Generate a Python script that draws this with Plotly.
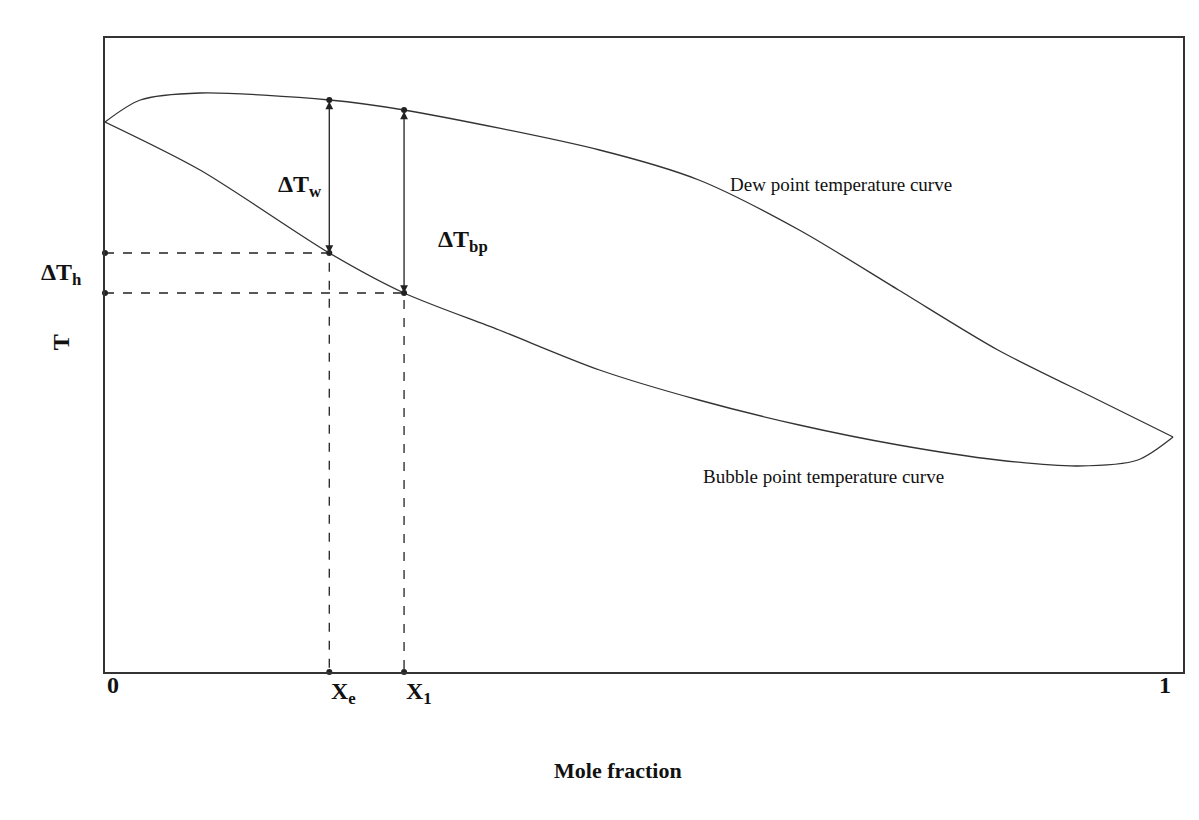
import plotly.graph_objects as go

# dew point curve (upper)
dew_x = [0, 0.033, 0.089, 0.21, 0.28, 0.463, 0.556, 0.65, 0.743, 0.836, 0.93, 1.0]
dew_t = [550, 572, 579, 572, 562, 522, 492, 442, 382, 322, 272, 235]

# bubble point curve (lower)
bub_x = [0, 0.089, 0.21, 0.28, 0.369, 0.463, 0.556, 0.65, 0.743, 0.836, 0.911, 0.967, 1.0]
bub_t = [550, 502, 419, 379, 342, 302, 272, 247, 227, 212, 206, 212, 235]

x_e, x_1 = 0.21, 0.28
t_dew_e, t_bub_e = 572, 419
t_dew_1, t_bub_1 = 562, 379

X_MAX, T_MAX = 1.0093, 634
FONT = "Liberation Serif"
fig = go.Figure()

line = dict(color="#333", width=1.3, shape="spline", smoothing=0.8)
fig.add_trace(go.Scatter(x=dew_x, y=dew_t, mode="lines", line=line))
fig.add_trace(go.Scatter(x=bub_x, y=bub_t, mode="lines", line=line))

dash = dict(color="#222", width=1.3, dash="dash")
for xv, tv in [(x_e, t_bub_e), (x_1, t_bub_1)]:
    fig.add_trace(go.Scatter(x=[0, xv, xv], y=[tv, tv, 0], mode="lines", line=dash))

fig.add_trace(go.Scatter(
    x=[0, 0, x_e, x_1, x_e, x_1, x_e, x_1],
    y=[t_bub_e, t_bub_1, 0, 0, t_bub_e, t_bub_1, t_dew_e, t_dew_1],
    mode="markers", marker=dict(color="#222", size=6), cliponaxis=False))

for xv, t0, t1 in [(x_e, t_dew_e, t_bub_e), (x_1, t_dew_1, t_bub_1)]:
    fig.add_annotation(x=xv, y=t1, ax=xv, ay=t0, xref="x", yref="y", axref="x", ayref="y",
                       text="", showarrow=True, arrowhead=2, arrowsize=1.2, arrowwidth=1.3,
                       arrowcolor="#222", arrowside="end+start")

def txt(x, y, s, size, **kw):
    # paper coordinates so labels outside the axes are not hidden
    fig.add_annotation(x=x / X_MAX, y=y / T_MAX, xref="paper", yref="paper", text=s,
                       showarrow=False, font=dict(family=FONT, size=size, color="#111"), **kw)

txt(0.16, 503, "<b>ΔT<sub>w</sub></b>", 24)
txt(0.31, 448, "<b>ΔT<sub>bp</sub></b>", 24)
txt(-0.062, 398, "<b>ΔT<sub>h</sub></b>", 24)
txt(-0.055, 330, "<b>T</b>", 24, textangle=-90)
txt(0.795, 500, "Dew point temperature curve", 19)
txt(0.787, 183, "Bubble point temperature curve", 19)
txt(0, -28, "<b>0</b>", 24)
txt(1, -28, "<b>1</b>", 24)
txt(x_e, -38, "<b>X<sub>e</sub></b>", 24)
txt(x_1, -38, "<b>X<sub>1</sub></b>", 24)
txt(0.48, -113, "<b>Mole fraction</b>", 22)

ax = dict(showgrid=False, zeroline=False, showticklabels=False, ticks="",
          showline=True, mirror=True, linecolor="#333", linewidth=1.5)
fig.update_layout(
    width=1183, height=804, showlegend=False,
    plot_bgcolor="white", paper_bgcolor="white",
    margin=dict(l=97, r=6, t=30, b=140),
    xaxis=dict(range=[0, X_MAX], **ax),
    yaxis=dict(range=[0, T_MAX], **ax),
)

fig.write_html("out.html")
